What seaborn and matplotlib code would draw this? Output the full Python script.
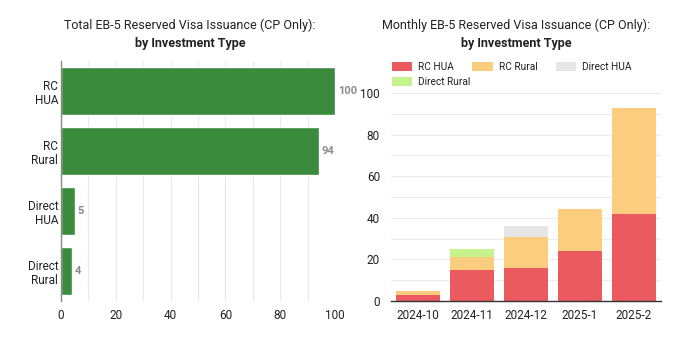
import matplotlib
matplotlib.use("Agg")
import matplotlib.pyplot as plt
import seaborn as sns
import pandas as pd
import numpy as np
from matplotlib.patches import Patch

# ---- data ----
types = ["RC\nHUA", "RC\nRural", "Direct\nHUA", "Direct\nRural"]
totals = [100, 94, 5, 4]

months = ["2024-10", "2024-11", "2024-12", "2025-1", "2025-2"]
series_names = ["RC HUA", "RC Rural", "Direct HUA", "Direct Rural"]
rc_hua = [3, 15, 16, 24, 42]
rc_rural = [2, 6, 15, 20, 51]
direct_hua = [0, 0, 5, 0, 0]
direct_rural = [0, 4, 0, 0, 0]

colors = ["#EB5A5F", "#FDCD7F", "#E6E6E6", "#C4F28D"]
green = "#3A8C3C"

sns.set_theme(style="white")
plt.rcParams["font.family"] = ["Roboto", "DejaVu Sans"]

fig = plt.figure(figsize=(6.98, 3.4), dpi=100)
W, H = 698, 340
ax1 = fig.add_axes([61 / W, 1 - 301 / H, (335 - 61) / W, (301 - 61) / H])
ax2 = fig.add_axes([391 / W, 1 - 301 / H, (661 - 391) / W, (301 - 93) / H])

# ---- left chart ----
df1 = pd.DataFrame({"type": types, "total": totals})
sns.barplot(data=df1, x="total", y="type", color=green, saturation=1,
            width=0.8, ax=ax1)
ax1.set_xlim(0, 100)
ax1.set_ylim(3.5, -0.5)
ax1.set_xticks(np.arange(0, 101, 20))
ax1.set_xticks(np.arange(10, 100, 20), minor=True)
ax1.grid(axis="x", which="both", color="#E8E8E8", linewidth=0.8)
ax1.set_axisbelow(True)
for i, v in enumerate(totals):
    ax1.text(v + 1, i, str(v), va="center", ha="left", fontsize=8,
             fontweight="bold", color="#8A8A8A", clip_on=False)
for s in ["top", "right", "bottom"]:
    ax1.spines[s].set_visible(False)
ax1.spines["left"].set_color("#888888")
ax1.spines["left"].set_linewidth(1)
ax1.set_xlabel("")
ax1.set_ylabel("")
ax1.tick_params(axis="both", which="both", length=0, labelsize=8.5,
                colors="#222222", pad=6)
ax1.tick_params(axis="y", pad=2)
fig.text(190 / W, 1 - 25 / H, "Total EB-5 Reserved Visa Issuance (CP Only):",
         ha="center", va="center", fontsize=9, color="#222222")
fig.text(190 / W, 1 - 44 / H, "by Investment Type", ha="center", va="center",
         fontsize=9, fontweight="bold", color="#222222")

# ---- right chart (stacked via cumulative layers) ----
stack = np.array([rc_hua, rc_rural, direct_hua, direct_rural], dtype=float)
cum = np.cumsum(stack, axis=0)
for k in range(len(series_names) - 1, -1, -1):
    dfk = pd.DataFrame({"month": months, "value": cum[k]})
    sns.barplot(data=dfk, x="month", y="value", color=colors[k],
                saturation=1, width=0.8, linewidth=0, ax=ax2)
ax2.set_xlim(-0.5, 4.5)
ax2.set_ylim(0, 100)
ax2.set_yticks(np.arange(0, 101, 20))
ax2.set_yticks(np.arange(10, 100, 20), minor=True)
ax2.grid(axis="y", which="both", color="#EBEBEB", linewidth=0.8)
ax2.set_axisbelow(True)
for s in ["top", "right", "left"]:
    ax2.spines[s].set_visible(False)
ax2.spines["bottom"].set_color("#333333")
ax2.spines["bottom"].set_linewidth(1)
ax2.set_xlabel("")
ax2.set_ylabel("")
ax2.tick_params(axis="both", which="both", length=0, labelsize=8.5,
                colors="#222222", pad=6)
ax2.tick_params(axis="y", pad=8)

handles = [Patch(facecolor=c, edgecolor="none") for c in colors]
leg_kw = dict(loc="center left", frameon=False, fontsize=7.3,
              handlelength=2.0, handleheight=1.05, columnspacing=1.8,
              handletextpad=0.6, borderaxespad=0, borderpad=0)
leg1 = fig.legend(handles[:3], series_names[:3], ncol=3,
                  bbox_to_anchor=(392 / W, 1 - 67 / H), **leg_kw)
leg2 = fig.legend(handles[3:], series_names[3:], ncol=1,
                  bbox_to_anchor=(392 / W, 1 - 82 / H), **leg_kw)
for lg in (leg1, leg2):
    for t in lg.get_texts():
        t.set_color("#222222")

fig.text(516 / W, 1 - 25 / H, "Monthly EB-5 Reserved Visa Issuance (CP Only):",
         ha="center", va="center", fontsize=9, color="#222222")
fig.text(516 / W, 1 - 44 / H, "by Investment Type", ha="center", va="center",
         fontsize=9, fontweight="bold", color="#222222")

fig.savefig("out.png", dpi=100)
